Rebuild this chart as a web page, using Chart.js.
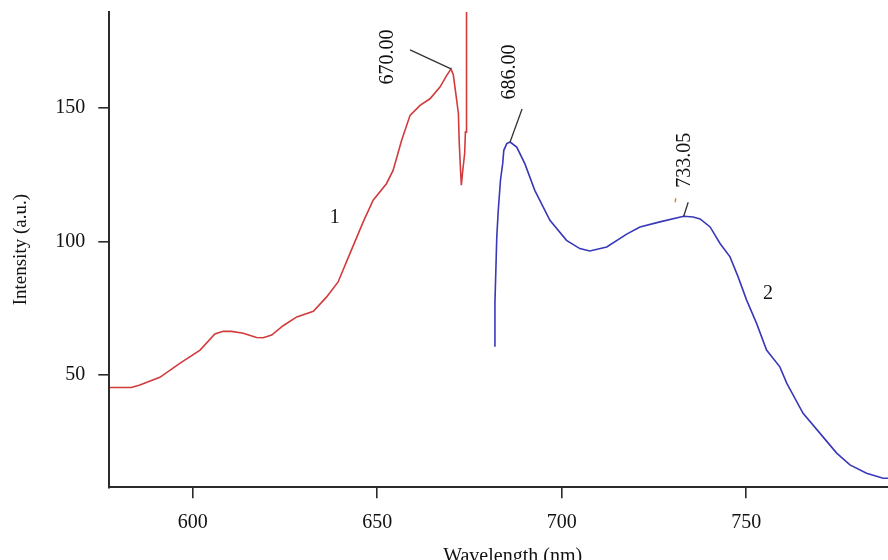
<!DOCTYPE html>
<html>
<head>
<meta charset="utf-8">
<title>Emission spectra</title>
<script src="https://cdn.jsdelivr.net/npm/chart.js@4.4.1/dist/chart.umd.min.js"></script>
<style>
  html, body { margin: 0; padding: 0; background: #fff; overflow: hidden; width: 888px; height: 560px; }
  #wrap { width: 916px; height: 580px; }
</style>
</head>
<body>
<div id="wrap"><canvas id="spectra" width="916" height="580"></canvas></div>
<script>
// Curve 1 (red): wavelength (nm) and intensity (a.u.)
const curve1Wavelength = [577.5, 583.4, 585.7, 591.1, 596.5, 602.0, 606.0, 608.3, 610.5, 613.7,
  617.3, 619.1, 621.4, 624.5, 628.2, 632.7, 636.3, 639.4, 642.6, 646.2,
  648.9, 652.5, 654.3, 656.6, 658.9, 661.6, 664.3, 667.0, 668.8, 670.0,
  670.6, 671.3, 672.0, 672.2, 672.6, 672.8, 673.1, 673.7, 673.9, 674.2, 674.2];
const curve1Intensity = [45.4, 45.4, 46.3, 49.2, 54.4, 59.4, 65.4, 66.4, 66.4, 65.7,
  64.1, 64.0, 65.0, 68.5, 71.8, 73.9, 79.3, 84.9, 95.5, 107.4,
  115.5, 121.7, 126.7, 137.9, 147.3, 151.0, 153.5, 157.9, 162.2, 164.7,
  162.6, 155.4, 148.0, 137.9, 126.1, 121.1, 125.6, 133.1, 141.0, 141.0, 200];

// Curve 2 (blue)
const curve2Wavelength = [681.9, 681.9, 682.4, 682.8, 683.4, 684.0, 684.3, 685.1, 686.0, 687.8,
  690.0, 692.7, 696.8, 701.3, 704.9, 707.6, 712.2, 717.6, 721.2, 726.6,
  733.05, 735.6, 737.5, 740.2, 742.9, 745.6, 747.8, 750.1, 752.8, 755.5,
  759.1, 761.0, 765.4, 770.0, 774.5, 778.1, 782.6, 787.1, 788.4];
const curve2Intensity = [60.6, 76.9, 101.8, 111.7, 123.0, 129.2, 134.2, 136.7, 137.3, 135.4,
  129.2, 119.2, 108.0, 100.5, 97.4, 96.5, 98.0, 102.8, 105.5, 107.4,
  109.5, 109.2, 108.5, 105.5, 99.3, 94.3, 86.8, 78.1, 69.4, 59.4,
  53.1, 46.9, 35.7, 28.2, 20.8, 16.4, 13.3, 11.4, 11.4];

// Marked peaks
const peakWavelength = [670.0, 686.0, 733.05];
const peakIntensity = [164.7, 137.3, 109.5];
const peakLabels = ['670.00', '686.00', '733.05'];

// Curve numbers
const curveNames = ['1', '2'];
const curveNameWavelength = [638.5, 755.9];
const curveNameIntensity = [108.8, 80.3];

// Axis ticks
const xTicks = [600, 650, 700, 750];
const yTicks = [50, 100, 150];

const FONT = "'Liberation Serif', 'Times New Roman', serif";
const INK = '#111';
const AXIS = '#2b2b2b';

const toPoints = (xs, ys) => xs.map((x, i) => ({ x, y: ys[i] }));

// Leader line and label placement around each marked peak (pixel offsets from the peak)
const peakCallouts = [
  { leader: [-41, -19], text: [-63, -12] },
  { leader: [12, -33], text: [0, -70] },
  { leader: [4.5, -14], text: [1, -56], tick: [-8, -16] }
];

const annotate = {
  id: 'annotate',
  afterDatasetsDraw(chart) {
    const { ctx, scales: { x, y } } = chart;
    ctx.save();
    ctx.font = `20px ${FONT}`;
    ctx.fillStyle = INK;
    ctx.textAlign = 'center';
    ctx.textBaseline = 'middle';
    peakWavelength.forEach((wl, i) => {
      const px = x.getPixelForValue(wl);
      const py = y.getPixelForValue(peakIntensity[i]);
      const c = peakCallouts[i];
      ctx.strokeStyle = '#333';
      ctx.lineWidth = 1.3;
      ctx.beginPath();
      ctx.moveTo(px, py);
      ctx.lineTo(px + c.leader[0], py + c.leader[1]);
      ctx.stroke();
      if (c.tick) {
        ctx.strokeStyle = '#c98a3a';
        ctx.lineWidth = 1.5;
        ctx.beginPath();
        ctx.moveTo(px + c.tick[0], py + c.tick[1] - 2);
        ctx.lineTo(px + c.tick[0] - 0.5, py + c.tick[1] + 2);
        ctx.stroke();
      }
      ctx.save();
      ctx.translate(px + c.text[0], py + c.text[1]);
      ctx.rotate(-Math.PI / 2);
      ctx.fillText(peakLabels[i], 0, 0);
      ctx.restore();
    });
    curveNames.forEach((name, i) => {
      ctx.fillText(name, x.getPixelForValue(curveNameWavelength[i]), y.getPixelForValue(curveNameIntensity[i]));
    });
    ctx.restore();
  }
};

new Chart(document.getElementById('spectra'), {
  type: 'line',
  data: {
    datasets: [
      {
        label: '1',
        data: toPoints(curve1Wavelength, curve1Intensity),
        borderColor: '#d23a3c',
        borderWidth: 1.6,
        pointRadius: 0,
        tension: 0,
        fill: false
      },
      {
        label: '2',
        data: toPoints(curve2Wavelength, curve2Intensity),
        borderColor: '#3838b8',
        borderWidth: 1.6,
        pointRadius: 0,
        tension: 0,
        fill: false
      }
    ]
  },
  options: {
    responsive: false,
    animation: false,
    devicePixelRatio: 1,
    layout: { padding: { top: 12, right: 0, bottom: 0, left: 0 } },
    plugins: { legend: { display: false }, tooltip: { enabled: false } },
    scales: {
      x: {
        type: 'linear',
        min: 577.4,
        max: 796,
        afterBuildTicks: axis => { axis.ticks = xTicks.map(value => ({ value })); },
        afterFit: axis => {
          axis.height = 92.7;
          axis.paddingLeft = 0;
          axis.paddingRight = 0;
        },
        ticks: { color: INK, font: { family: FONT, size: 20 }, padding: 12, maxRotation: 0 },
        grid: { drawOnChartArea: false, drawTicks: true, tickLength: 11, color: AXIS, tickColor: AXIS, lineWidth: 1.6 },
        border: { display: true, color: AXIS, width: 2 },
        title: { display: true, text: 'Wavelength (nm)', color: INK, font: { family: FONT, size: 20 }, padding: { top: 0, bottom: 11 } }
      },
      y: {
        type: 'linear',
        min: 8,
        max: 186,
        afterBuildTicks: axis => { axis.ticks = yTicks.map(value => ({ value })); },
        afterFit: axis => {
          axis.width = 109.3;
          axis.paddingTop = 0;
          axis.paddingBottom = 0;
        },
        ticks: { color: INK, font: { family: FONT, size: 20 }, padding: 13 },
        grid: { drawOnChartArea: false, drawTicks: true, tickLength: 11, color: AXIS, tickColor: AXIS, lineWidth: 1.6 },
        border: { display: true, color: AXIS, width: 2 },
        title: { display: true, text: 'Intensity (a.u.)', color: INK, font: { family: FONT, size: 19 }, padding: { top: 10, bottom: 0 } }
      }
    }
  },
  plugins: [annotate]
});
</script>
</body>
</html>
